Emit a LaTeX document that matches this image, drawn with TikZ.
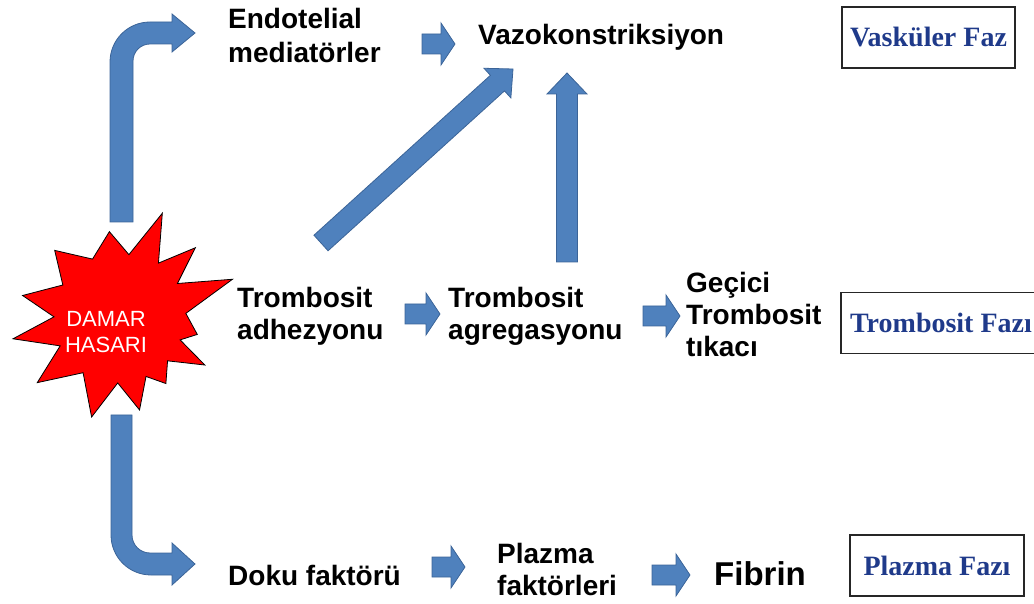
\documentclass[tikz,border=0pt]{standalone}
\usepackage{fontspec}
\setmainfont{Liberation Sans}
\newfontfamily\fazfont{Liberation Serif}
\usetikzlibrary{calc,positioning}
\definecolor{arrowblue}{HTML}{4F81BD}
\definecolor{arrowedge}{HTML}{3B6498}
\definecolor{fazblue}{HTML}{1F3A8A}
\definecolor{burstred}{HTML}{FF0000}

\tikzset{
  shaft/.store in=\bshaft, head/.store in=\bhead, headlen/.store in=\bheadlen,
  blockarrow/.style={fill=arrowblue, draw=arrowedge, line width=0.8pt, line join=miter,
    to path={let \p1=(\tikztostart), \p2=(\tikztotarget), \p3=($(\p2)!\bheadlen!(\p1)$) in
      ($(\p1)!\bshaft!90:(\p2)$) -- ($(\p3)!\bshaft!90:(\p2)$) -- ($(\p3)!\bhead!90:(\p2)$) -- (\p2)
      -- ($(\p3)!\bhead!-90:(\p2)$) -- ($(\p3)!\bshaft!-90:(\p2)$) -- ($(\p1)!\bshaft!-90:(\p2)$) -- cycle}},
  smallarrow/.style={blockarrow, shaft=10pt, head=21pt, headlen=14pt},
  bigarrow/.style={blockarrow, shaft=10.5pt, head=20pt, headlen=21pt},
  txt/.style={font=\bfseries\fontsize{28}{32}\selectfont, inner sep=0pt, align=left},
  fazbox/.style={draw=black!85, line width=1.3pt, font=\fazfont\bfseries\fontsize{28}{33}\selectfont,
    text=fazblue, minimum height=61pt, inner sep=0pt}
}

\begin{document}
\begin{tikzpicture}[x=1pt,y=1pt]
  \useasboundingbox (0,0) rectangle (1034,603);
  % bent arrows out of the damage
  \filldraw[blockarrow] (110,381) -- (110,541) arc[start angle=180,end angle=90,radius=40]
    -- (172,581) -- (172,589) -- (195,570) -- (172,551) -- (172,559) -- (150,559)
    arc[start angle=90,end angle=180,radius=17] -- (133,381) -- cycle;
  \filldraw[blockarrow] (111,188) -- (111,68) arc[start angle=180,end angle=270,radius=40]
    -- (172,28) -- (172,18) -- (195,39) -- (172,60) -- (172,50) -- (150,50)
    arc[start angle=270,end angle=180,radius=18] -- (132,188) -- cycle;
  % starburst
  \filldraw[fill=burstred, draw=black, line width=0.8pt, shift={(120,285)}] (167:100)
    \foreach \a/\r in {150/66, 134/94, 115/65, 97/87, 82/64, 68/113, 55/67, 43/103, 31/67,
      19/119, 4/66, -12/79, -20/64, -29/97, -42/64, -55/80, -66/64, -78/94, -92/65,
      -106/103, -124/66, -142/105, -155/66, -169/109, -181/66} {-- (\a:\r)} -- cycle;
  \node[text=white, font=\fontsize{22}{26}\selectfont, align=center, inner sep=0pt] (dmg)
    at (106,271) {DAMAR\\HASARI};
  % vascular row
  \node[txt, anchor=north west, font=\bfseries\fontsize{28}{34}\selectfont] (endo)
    at (228,595) {Endotelial\\mediatörler};
  \node[txt, anchor=base west] (vaso) at (478,558) {Vazokonstriksiyon};
  % platelet row
  \node[txt, anchor=north west] (adh) at (237,316) {Trombosit\\adhezyonu};
  \node[txt, anchor=north west] (agr) at (448,316) {Trombosit\\agregasyonu};
  \node[txt, anchor=north west] (gec) at (686,331) {Geçici\\Trombosit\\tıkacı};
  % plasma row
  \node[txt, anchor=base west] (doku) at (228,18) {Doku faktörü};
  \node[txt, anchor=north west] (plz) at (497,60) {Plazma\\faktörleri};
  \node[txt, anchor=base west, font=\bfseries\fontsize{33}{38}\selectfont] (fib)
    at (714,18) {Fibrin};
  % phase boxes
  \node[fazbox, minimum width=173pt] (vasf) at (928.5,565.5) {Vasküler Faz};
  \node[fazbox, minimum width=200pt] (trof) at (941,280) {Trombosit Fazı};
  \node[fazbox, minimum width=174pt] (plzf) at (937,37.5) {Plazma Fazı};
  % block arrows between steps
  \filldraw[smallarrow] ($(vaso.base west)+(-56,1)$) to ($(vaso.base west)+(-23,1)$);
  \filldraw[smallarrow] ($(agr.north west)+(-43,-27)$) to ($(agr.north west)+(-8,-27)$);
  \filldraw[smallarrow] ($(gec.north west)+(-43,-44)$) to ($(gec.north west)+(-6,-44)$);
  \filldraw[smallarrow] ($(plz.north west)+(-65,-24)$) to ($(plz.north west)+(-32,-24)$);
  \filldraw[smallarrow] ($(fib.base west)+(-62,10)$) to ($(fib.base west)+(-24,10)$);
  \filldraw[bigarrow] ($(adh.north west)+(84,44)$) to ($(vaso.base west)+(35,-24)$);
  \filldraw[bigarrow] ($(agr.north west)+(119,25)$) to ($(vaso.base west)+(89,-28)$);
\end{tikzpicture}
\end{document}
